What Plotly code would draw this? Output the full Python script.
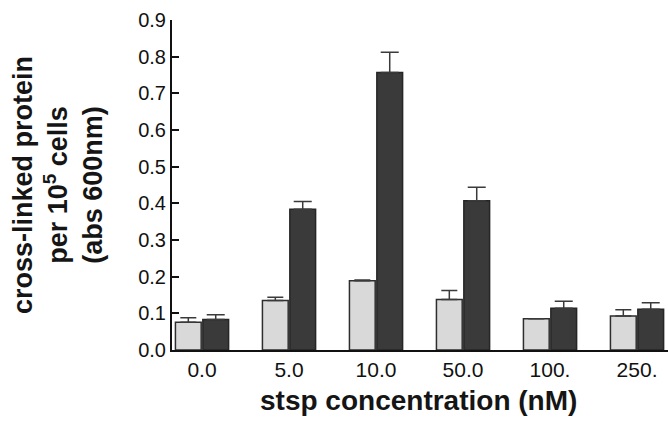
import plotly.graph_objects as go

categories = ["0.0", "5.0", "10.0", "50.0", "100.", "250."]
light_values = [0.076, 0.135, 0.189, 0.138, 0.085, 0.093]
light_errors = [0.012, 0.009, 0.002, 0.024, 0.0, 0.017]
dark_values = [0.083, 0.384, 0.757, 0.407, 0.114, 0.111]
dark_errors = [0.013, 0.021, 0.055, 0.037, 0.019, 0.018]
y_ticks = [0.0, 0.1, 0.2, 0.3, 0.4, 0.5, 0.6, 0.7, 0.8, 0.9]

FONT = "Liberation Sans, Arial, sans-serif"

fig = go.Figure()
fig.add_trace(go.Bar(
    x=categories, y=light_values, name="light",
    marker=dict(color="#d9d9d9", line=dict(color="#2e2e2e", width=1.5)),
    error_y=dict(type="data", array=light_errors, arrayminus=[0] * len(light_errors),
                 symmetric=False, color="#3a3a3a", thickness=1.5, width=8),
))
fig.add_trace(go.Bar(
    x=categories, y=dark_values, name="dark",
    marker=dict(color="#3a3a3a", line=dict(color="#262626", width=1.5)),
    error_y=dict(type="data", array=dark_errors, arrayminus=[0] * len(dark_errors),
                 symmetric=False, color="#3a3a3a", thickness=1.5, width=9),
))

fig.update_layout(
    width=668, height=421,
    margin=dict(l=172, r=0, t=20, b=71),
    paper_bgcolor="white", plot_bgcolor="white",
    barmode="group", bargap=0.37, bargroupgap=0.06,
    showlegend=False,
    font=dict(family=FONT, color="#111111"),
    xaxis=dict(
        type="category", range=[-0.345, 5.356],
        showline=True, linecolor="#111111", linewidth=2,
        ticks="", showgrid=False, zeroline=False,
        tickfont=dict(size=21, family=FONT, color="#111111"),
    ),
    yaxis=dict(
        range=[0, 0.9], tickvals=y_ticks,
        ticktext=[f"{v:.1f}" for v in y_ticks],
        showline=True, linecolor="#111111", linewidth=2,
        ticks="inside", ticklen=7, tickwidth=2, tickcolor="#111111",
        showgrid=False, zeroline=False,
        tickfont=dict(size=20, family=FONT, color="#111111"),
    ),
    annotations=[
        dict(text="<b>cross-linked protein<br>per 10<sup>5</sup> cells<br>(abs 600nm)</b>",
             xref="paper", yref="paper", x=(58 - 172) / 496, y=0.5,
             xanchor="center", yanchor="middle", textangle=-90, showarrow=False,
             font=dict(size=27, family=FONT, color="#151515")),
        dict(text="<b>stsp concentration (nM)</b>",
             xref="paper", yref="paper", x=(418 - 172) / 496, y=(350 - 400) / 330,
             xanchor="center", yanchor="middle", showarrow=False,
             font=dict(size=28, family=FONT, color="#151515")),
    ],
)

fig.write_html("out.html", config={"displayModeBar": False},
               post_script="document.body.style.margin='0';")
